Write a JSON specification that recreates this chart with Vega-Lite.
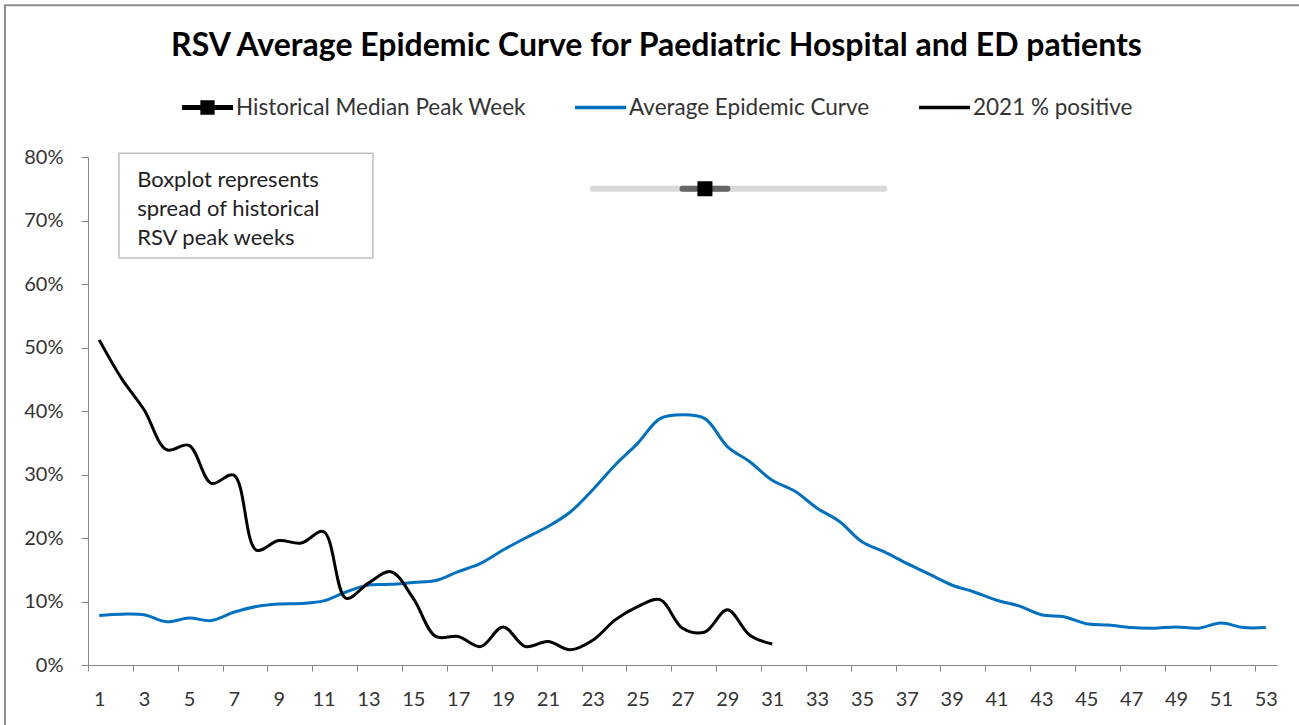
{
  "$schema": "https://vega.github.io/schema/vega-lite/v6.json",
  "width": 1189,
  "height": 508,
  "autosize": {"type": "none"},
  "padding": {"left": 88, "top": 157, "right": 22, "bottom": 60},
  "background": "white",
  "config": {
    "view": {"stroke": null},
    "font": "Lato",
    "axis": {"grid": false, "title": null, "domainColor": "#868686", "tickColor": "#868686", "labelFont": "Lato", "labelColor": "#333333", "labelFontSize": 20}
  },
  "title": {"text": "RSV Average Epidemic Curve for Paediatric Hospital and ED patients", "font": "Lato", "fontSize": 32, "fontWeight": "bold", "color": "#000000", "anchor": "middle", "dx": -26, "baseline": "alphabetic", "offset": -84},
  "datasets": {
    "curves": [
      {"week": 1, "series": "Average Epidemic Curve", "pct": 7.8},
      {"week": 2, "series": "Average Epidemic Curve", "pct": 8.0},
      {"week": 3, "series": "Average Epidemic Curve", "pct": 7.9},
      {"week": 4, "series": "Average Epidemic Curve", "pct": 6.8},
      {"week": 5, "series": "Average Epidemic Curve", "pct": 7.4},
      {"week": 6, "series": "Average Epidemic Curve", "pct": 7.0},
      {"week": 7, "series": "Average Epidemic Curve", "pct": 8.3},
      {"week": 8, "series": "Average Epidemic Curve", "pct": 9.2},
      {"week": 9, "series": "Average Epidemic Curve", "pct": 9.6},
      {"week": 10, "series": "Average Epidemic Curve", "pct": 9.7},
      {"week": 11, "series": "Average Epidemic Curve", "pct": 10.1},
      {"week": 12, "series": "Average Epidemic Curve", "pct": 11.5},
      {"week": 13, "series": "Average Epidemic Curve", "pct": 12.6},
      {"week": 14, "series": "Average Epidemic Curve", "pct": 12.7},
      {"week": 15, "series": "Average Epidemic Curve", "pct": 13.0},
      {"week": 16, "series": "Average Epidemic Curve", "pct": 13.3},
      {"week": 17, "series": "Average Epidemic Curve", "pct": 14.7},
      {"week": 18, "series": "Average Epidemic Curve", "pct": 16.0},
      {"week": 19, "series": "Average Epidemic Curve", "pct": 18.1},
      {"week": 20, "series": "Average Epidemic Curve", "pct": 20.0},
      {"week": 21, "series": "Average Epidemic Curve", "pct": 21.8},
      {"week": 22, "series": "Average Epidemic Curve", "pct": 24.1},
      {"week": 23, "series": "Average Epidemic Curve", "pct": 27.6},
      {"week": 24, "series": "Average Epidemic Curve", "pct": 31.5},
      {"week": 25, "series": "Average Epidemic Curve", "pct": 34.9},
      {"week": 26, "series": "Average Epidemic Curve", "pct": 38.8},
      {"week": 27, "series": "Average Epidemic Curve", "pct": 39.4},
      {"week": 28, "series": "Average Epidemic Curve", "pct": 38.8},
      {"week": 29, "series": "Average Epidemic Curve", "pct": 34.4},
      {"week": 30, "series": "Average Epidemic Curve", "pct": 32.0},
      {"week": 31, "series": "Average Epidemic Curve", "pct": 29.1},
      {"week": 32, "series": "Average Epidemic Curve", "pct": 27.4},
      {"week": 33, "series": "Average Epidemic Curve", "pct": 24.7},
      {"week": 34, "series": "Average Epidemic Curve", "pct": 22.6},
      {"week": 35, "series": "Average Epidemic Curve", "pct": 19.4},
      {"week": 36, "series": "Average Epidemic Curve", "pct": 17.8},
      {"week": 37, "series": "Average Epidemic Curve", "pct": 16.0},
      {"week": 38, "series": "Average Epidemic Curve", "pct": 14.3},
      {"week": 39, "series": "Average Epidemic Curve", "pct": 12.6},
      {"week": 40, "series": "Average Epidemic Curve", "pct": 11.5},
      {"week": 41, "series": "Average Epidemic Curve", "pct": 10.2},
      {"week": 42, "series": "Average Epidemic Curve", "pct": 9.3},
      {"week": 43, "series": "Average Epidemic Curve", "pct": 7.9},
      {"week": 44, "series": "Average Epidemic Curve", "pct": 7.6},
      {"week": 45, "series": "Average Epidemic Curve", "pct": 6.5},
      {"week": 46, "series": "Average Epidemic Curve", "pct": 6.3},
      {"week": 47, "series": "Average Epidemic Curve", "pct": 5.9},
      {"week": 48, "series": "Average Epidemic Curve", "pct": 5.8},
      {"week": 49, "series": "Average Epidemic Curve", "pct": 6.0},
      {"week": 50, "series": "Average Epidemic Curve", "pct": 5.8},
      {"week": 51, "series": "Average Epidemic Curve", "pct": 6.6},
      {"week": 52, "series": "Average Epidemic Curve", "pct": 5.9},
      {"week": 53, "series": "Average Epidemic Curve", "pct": 5.9},
      {"week": 1, "series": "2021 % positive", "pct": 51.2},
      {"week": 2, "series": "2021 % positive", "pct": 45.1},
      {"week": 3, "series": "2021 % positive", "pct": 40.2},
      {"week": 4, "series": "2021 % positive", "pct": 33.9},
      {"week": 5, "series": "2021 % positive", "pct": 34.6},
      {"week": 6, "series": "2021 % positive", "pct": 28.6},
      {"week": 7, "series": "2021 % positive", "pct": 29.9},
      {"week": 8, "series": "2021 % positive", "pct": 18.1},
      {"week": 9, "series": "2021 % positive", "pct": 19.6},
      {"week": 10, "series": "2021 % positive", "pct": 19.2},
      {"week": 11, "series": "2021 % positive", "pct": 21.0},
      {"week": 12, "series": "2021 % positive", "pct": 10.5},
      {"week": 13, "series": "2021 % positive", "pct": 12.9},
      {"week": 14, "series": "2021 % positive", "pct": 14.7},
      {"week": 15, "series": "2021 % positive", "pct": 10.5},
      {"week": 16, "series": "2021 % positive", "pct": 4.5},
      {"week": 17, "series": "2021 % positive", "pct": 4.5},
      {"week": 18, "series": "2021 % positive", "pct": 2.9},
      {"week": 19, "series": "2021 % positive", "pct": 6.0},
      {"week": 20, "series": "2021 % positive", "pct": 2.9},
      {"week": 21, "series": "2021 % positive", "pct": 3.7},
      {"week": 22, "series": "2021 % positive", "pct": 2.4},
      {"week": 23, "series": "2021 % positive", "pct": 3.9},
      {"week": 24, "series": "2021 % positive", "pct": 7.1},
      {"week": 25, "series": "2021 % positive", "pct": 9.2},
      {"week": 26, "series": "2021 % positive", "pct": 10.3},
      {"week": 27, "series": "2021 % positive", "pct": 5.8},
      {"week": 28, "series": "2021 % positive", "pct": 5.2},
      {"week": 29, "series": "2021 % positive", "pct": 8.7},
      {"week": 30, "series": "2021 % positive", "pct": 4.7},
      {"week": 31, "series": "2021 % positive", "pct": 3.3}
    ],
    "peaks": [
      {"min": 23, "q1": 27, "median": 28, "q3": 29, "max": 36, "level": 75}
    ],
    "single": [{}]
  },
  "layer": [
    {
      "data": {"name": "single"},
      "mark": {"type": "rect", "fill": null, "stroke": "#8c8c8c", "strokeWidth": 2},
      "encoding": {
        "x": {"datum": -3.2, "type": "quantitative", "scale": {"domain": [0.5, 53.5], "nice": false, "zero": false}},
        "x2": {"datum": 60},
        "y": {"datum": 103.9, "type": "quantitative", "scale": {"domain": [0, 80], "nice": false}},
        "y2": {"datum": -20}
      }
    },
    {
      "data": {"name": "single"},
      "mark": {"type": "rect", "fill": "white", "stroke": "#bfbfbf", "strokeWidth": 1.5},
      "encoding": {
        "x": {"datum": 1.88, "type": "quantitative", "scale": {"domain": [0.5, 53.5], "nice": false, "zero": false}},
        "x2": {"datum": 13.2},
        "y": {"datum": 64.1, "type": "quantitative", "scale": {"domain": [0, 80], "nice": false}},
        "y2": {"datum": 80.6}
      }
    },
    {
      "data": {"name": "single"},
      "mark": {"type": "text", "text": ["Boxplot represents", "spread of historical", "RSV peak weeks"], "align": "left", "baseline": "alphabetic", "lineHeight": 29, "fontSize": 22, "font": "Lato", "color": "#222222"},
      "encoding": {
        "x": {"datum": 2.69, "type": "quantitative", "scale": {"domain": [0.5, 53.5], "nice": false, "zero": false}},
        "y": {"datum": 75.2, "type": "quantitative", "scale": {"domain": [0, 80], "nice": false}}
      }
    },
    {
      "data": {"name": "peaks"},
      "mark": {"type": "rule", "stroke": "#d9d9d9", "strokeWidth": 6, "strokeCap": "round"},
      "encoding": {
        "x": {"field": "min", "type": "quantitative", "scale": {"domain": [0.5, 53.5], "nice": false, "zero": false}},
        "x2": {"field": "max"},
        "y": {"field": "level", "type": "quantitative", "scale": {"domain": [0, 80], "nice": false}}
      }
    },
    {
      "data": {"name": "peaks"},
      "mark": {"type": "rule", "stroke": "#666666", "strokeWidth": 6, "strokeCap": "round"},
      "encoding": {
        "x": {"field": "q1", "type": "quantitative", "scale": {"domain": [0.5, 53.5], "nice": false, "zero": false}},
        "x2": {"field": "q3"},
        "y": {"field": "level", "type": "quantitative", "scale": {"domain": [0, 80], "nice": false}}
      }
    },
    {
      "data": {"name": "peaks"},
      "mark": {"type": "point", "shape": "square", "size": 225, "filled": true, "fill": "#000000", "opacity": 1, "strokeWidth": 0},
      "encoding": {
        "x": {"field": "median", "type": "quantitative", "scale": {"domain": [0.5, 53.5], "nice": false, "zero": false}},
        "y": {"field": "level", "type": "quantitative", "scale": {"domain": [0, 80], "nice": false}}
      }
    },
    {
      "data": {"name": "curves"},
      "mark": {"type": "line", "strokeWidth": 3, "interpolate": "catmull-rom"},
      "encoding": {
        "x": {
          "field": "week", "type": "quantitative",
          "scale": {"domain": [0.5, 53.5], "nice": false, "zero": false},
          "axis": {
            "values": [0.5,1.5,2.5,3.5,4.5,5.5,6.5,7.5,8.5,9.5,10.5,11.5,12.5,13.5,14.5,15.5,16.5,17.5,18.5,19.5,20.5,21.5,22.5,23.5,24.5,25.5,26.5,27.5,28.5,29.5,30.5,31.5,32.5,33.5,34.5,35.5,36.5,37.5,38.5,39.5,40.5,41.5,42.5,43.5,44.5,45.5,46.5,47.5,48.5,49.5,50.5,51.5,52.5,53.5],
            "labelExpr": "(datum.value + 0.5) % 2 == 1 ? format(datum.value + 0.5, 'd') : ''",
            "labelOffset": 11.217,
            "labelOverlap": false,
            "labelBound": false,
            "labelFlush": false,
            "tickSize": 6,
            "labelPadding": 18
          }
        },
        "y": {
          "field": "pct", "type": "quantitative",
          "scale": {"domain": [0, 80], "nice": false},
          "axis": {
            "values": [0, 10, 20, 30, 40, 50, 60, 70, 80],
            "labelExpr": "datum.value + '%'",
            "tickSize": 7,
            "labelPadding": 18
          }
        },
        "stroke": {
          "field": "series", "type": "nominal",
          "scale": {"domain": ["Historical Median Peak Week", "Average Epidemic Curve", "2021 % positive"], "range": ["#000000", "#0070C0", "#000000"]},
          "legend": {
            "orient": "none", "legendX": 94, "legendY": -75, "direction": "horizontal", "columns": 3, "gridAlign": "each", "title": null,
            "symbolSize": 2601, "labelFont": "Lato", "labelFontSize": 22.5, "labelColor": "#333333", "labelLimit": 500, "columnPadding": 49, "labelOffset": 3,
            "encode": {
              "symbols": {
                "update": {
                  "shape": {"signal": "datum.value === 'Historical Median Peak Week' ? 'M-1,-0.1L1,-0.1L1,0.1L-1,0.1Z M-0.28,-0.28L0.28,-0.28L0.28,0.28L-0.28,0.28Z' : 'M-1,-0.07L1,-0.07L1,0.07L-1,0.07Z'"},
                  "fill": {"signal": "datum.value === 'Average Epidemic Curve' ? '#0070C0' : '#000000'"},
                  "fillOpacity": {"value": 1},
                  "strokeWidth": {"value": 0},
                  "size": {"value": 2601}
                }
              }
            }
          }
        }
      }
    }
  ]
}
